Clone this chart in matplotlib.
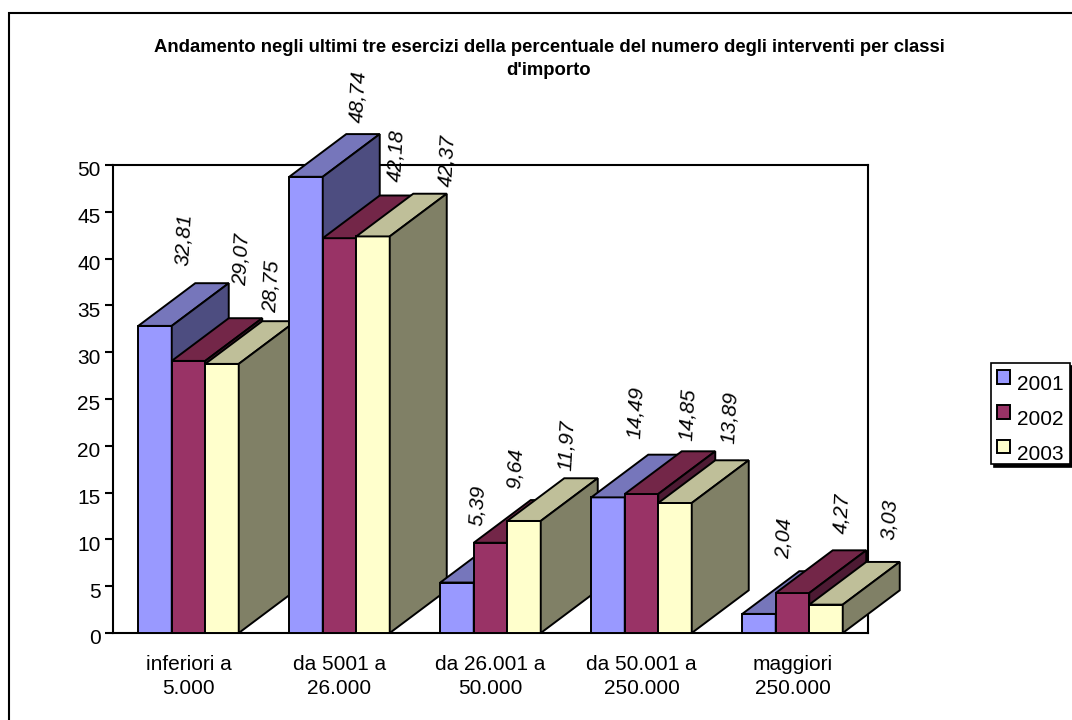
import matplotlib
matplotlib.use("Agg")
import matplotlib.pyplot as plt
from matplotlib.patches import Polygon, Rectangle, Patch
from matplotlib.transforms import ScaledTranslation

plt.rcParams['font.family'] = ['Liberation Sans', 'DejaVu Sans']

title = "Andamento negli ultimi tre esercizi della percentuale del numero degli interventi per classi\nd'importo"
categories = ["inferiori a\n5.000", "da 5001 a\n26.000", "da 26.001 a\n50.000", "da 50.001 a\n250.000", "maggiori\n250.000"]
series_names = ["2001", "2002", "2003"]
v2001 = [32.81, 48.74, 5.39, 14.49, 2.04]
v2002 = [29.07, 42.18, 9.64, 14.85, 4.27]
v2003 = [28.75, 42.37, 11.97, 13.89, 3.03]
yticks = list(range(0, 55, 5))

face = ["#9999FF", "#993366", "#FFFFCC"]
top = ["#7676BB", "#732648", "#BFBF99"]
side = ["#4D4D80", "#4D1A33", "#808066"]

# label placement (pixels from the front-top centre of each bar)
offs = [
    [(29, 86), (52, 80), (21, 77), (28, 85), (25, 76)],
    [(53, 101), (57, 83), (25, 74), (46, 80), (49, 80)],
    [(50, 77), (74, 76), (43, 76), (55, 85), (64, 85)],
]

W, H = 1072, 720
fig = plt.figure(figsize=(W / 100, H / 100), dpi=100)
fig.patch.set_facecolor("white")
fig.add_artist(Rectangle((9 / W, -0.1), 1.2, 0.1 + (H - 13) / H, transform=fig.transFigure,
                         facecolor="none", edgecolor="black", linewidth=1.5))

ax = fig.add_axes([113 / W, (H - 633) / H, 755 / W, 468 / H])
ax.set_xlim(-0.5, 4.5)
ax.set_ylim(0, 50)
ax.set_facecolor("white")
for s in ax.spines.values():
    s.set_linewidth(1.5)
    s.set_zorder(1)
ax.set_yticks(yticks)
ax.set_xticks(range(5))
ax.set_xticklabels(categories, fontsize=15, linespacing=1.33)
ax.tick_params(axis="y", labelsize=15, length=6, width=1.5, pad=3)
ax.tick_params(axis="x", length=0, pad=16)
shift = ScaledTranslation(0, -4 / 100, fig.dpi_scale_trans)
for lab in ax.get_yticklabels():
    lab.set_transform(lab.get_transform() + shift)

px_x = 5 / 755
px_y = 50 / 468
bw = 33.5 * px_x
ddx = 57 * px_x
ddy = 42.7 * px_y

z = 3
lw = 1.4
for c in range(len(categories)):
    for i, vals in enumerate([v2001, v2002, v2003]):
        v = vals[c]
        x0 = c + (i - 1.5) * bw
        x1 = x0 + bw
        ax.add_patch(Polygon([(x0, 0), (x1, 0), (x1, v), (x0, v)], closed=True, facecolor=face[i],
                             edgecolor="black", linewidth=lw, zorder=z, clip_on=False, joinstyle="miter"))
        ax.add_patch(Polygon([(x0, v), (x1, v), (x1 + ddx, v + ddy), (x0 + ddx, v + ddy)], closed=True,
                             facecolor=top[i], edgecolor="black", linewidth=lw, zorder=z, clip_on=False))
        ax.add_patch(Polygon([(x1, 0), (x1 + ddx, ddy), (x1 + ddx, v + ddy), (x1, v)], closed=True,
                             facecolor=side[i], edgecolor="black", linewidth=lw, zorder=z, clip_on=False))
        z += 1

for i, vals in enumerate([v2001, v2002, v2003]):
    for c, v in enumerate(vals):
        x = c + (i - 1) * bw
        ax.annotate(f"{v:.2f}".replace(".", ","), xy=(x, v), xytext=offs[i][c], textcoords="offset pixels",
                    rotation=87, rotation_mode="anchor", ha="center", va="center",
                    fontsize=15, fontstyle="italic", zorder=100, annotation_clip=False)

fig.text(549 / W, (H - 59) / H, title, ha="center", va="center", fontsize=13.3, fontweight="bold", linespacing=1.48)

handles = [Patch(facecolor=face[i], edgecolor="black", linewidth=1.4, label=series_names[i]) for i in range(3)]
leg = fig.legend(handles=handles, loc="upper left", bbox_to_anchor=(991 / W, (H - 363) / H),
                 fontsize=15, frameon=True, fancybox=False, edgecolor="black", framealpha=1,
                 shadow={"color": "black", "alpha": 1}, handlelength=0.62, handleheight=0.62,
                 handletextpad=0.31, labelspacing=0.76, borderpad=0.3, borderaxespad=0)
leg.get_frame().set_linewidth(1.2)
for t in leg.get_texts():
    t.set_position((0, -6))

fig.savefig("out.png", dpi=100, facecolor="white")
